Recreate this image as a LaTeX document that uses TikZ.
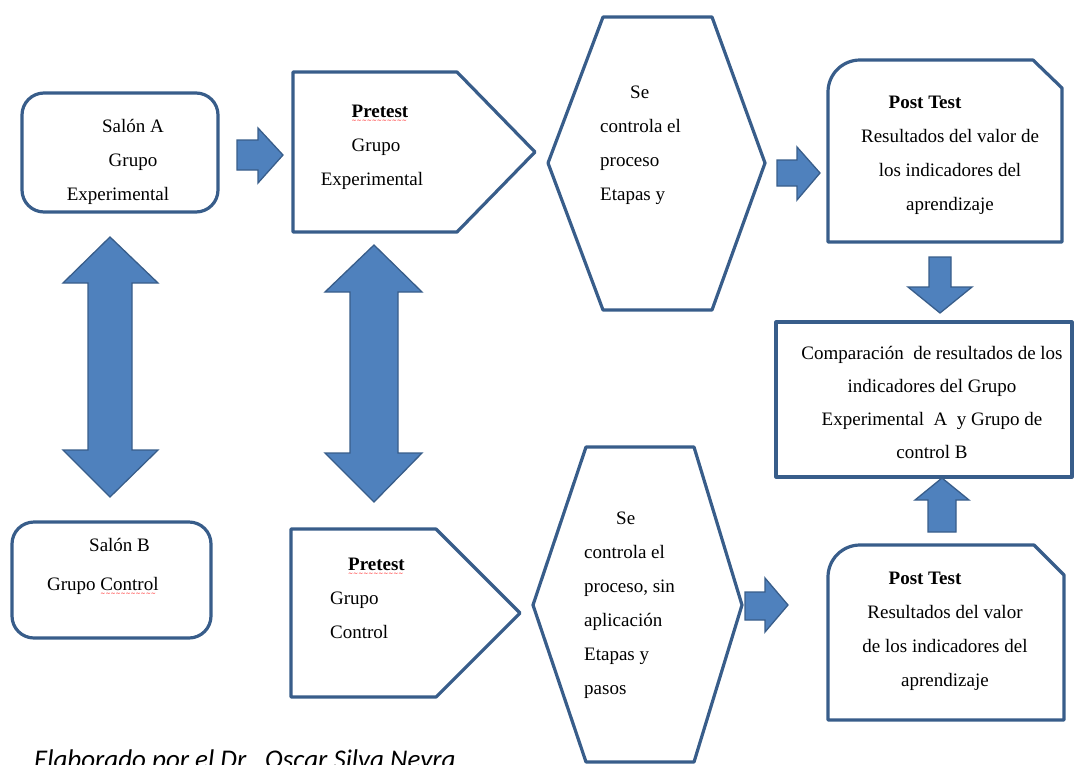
\documentclass[tikz,border=0pt]{standalone}
\usepackage{fontspec}
\setmainfont{Liberation Serif}
\newfontfamily\footfont{Carlito}
\newfontfamily\wavefont{DejaVu Sans}

\definecolor{lineblue}{HTML}{385D8A}
\definecolor{arrowblue}{HTML}{4F81BD}

% red wavy underline of the spell checker
\newcommand\spellmark[1]{\setbox0\hbox{#1}\rlap{\raisebox{-5pt}{\textcolor{red}{\wavefont\fontsize{6}{6}\selectfont\leaders\hbox{\char"223C}\hskip\wd0}}}#1}

\begin{document}
\begin{tikzpicture}[x=1pt, y=-1pt,
                    every node/.style={inner sep=0pt,
                      text=black,
                      font=\fontsize{19}{34}\selectfont},
                    outline/.style={draw=lineblue,
                      line width=3.2pt,
                      fill=white,
                      line join=round},
                    blockarrow/.style={draw=lineblue,
                      line width=1.3pt,
                      fill=arrowblue}]
\useasboundingbox (0,0) rectangle (1076,764);

% outlines
\draw[outline, rounded corners=22] (22,93) rectangle (218,212);
\draw[outline, rounded corners=22] (12,522) rectangle (211,638);
\draw[outline] (293,72) -- (457,72) -- (535,152) -- (457,232) -- (293,232) -- cycle;
\draw[outline] (291,529) -- (436,529) -- (520,613) -- (436,697) -- (291,697) -- cycle;
\draw[outline] (603,17) -- (712,17) -- (765,163) -- (712,310) -- (603,310) -- (548,163) -- cycle;
\draw[outline] (586,447) -- (694,447) -- (742,605) -- (694,762) -- (586,762) -- (533,605) -- cycle;
\draw[outline] (828,242) -- (828,92) arc[start angle=180, end angle=270, radius=32]
  -- (1033,60) -- (1062,88) -- (1062,242) -- cycle;
\draw[outline] (828,720) -- (828,577) arc[start angle=180, end angle=270, radius=32]
  -- (1034,545) -- (1064,575) -- (1064,720) -- cycle;
\draw[outline] (776,322) rectangle (1072,477);

% block arrows
\draw[blockarrow] (237,140) -- (258,140) -- (258,128) -- (283,155) -- (258,183) -- (258,170) -- (237,170) -- cycle;
\draw[blockarrow] (777,160) -- (797,160) -- (797,147) -- (820,173) -- (797,200) -- (797,186) -- (777,186) -- cycle;
\draw[blockarrow] (745,592) -- (765,592) -- (765,578) -- (788,605) -- (765,632) -- (765,620) -- (745,620) -- cycle;
\draw[blockarrow] (929,257) -- (951,257) -- (951,287) -- (972,287) -- (940,313) -- (908,287) -- (929,287) -- cycle;
\draw[blockarrow] (928,532) -- (956,532) -- (956,500) -- (969,500) -- (942,478) -- (915,500) -- (928,500) -- cycle;
\draw[blockarrow] (110,237) -- (158,283) -- (132,283) -- (132,450) -- (158,450) -- (110,497)
  -- (63,450) -- (88,450) -- (88,283) -- (63,283) -- cycle;
\draw[blockarrow] (374,245) -- (422,292) -- (398,292) -- (398,453) -- (422,453) -- (374,502)
  -- (325,453) -- (350,453) -- (350,292) -- (325,292) -- cycle;

% texts
\node (salonA) [align=center] at (133,162) {Salón A\\Grupo\\Experimental\hspace*{30pt}};
\node (salonB) [align=left, anchor=west] at (47,567) {\hspace*{42pt}Salón B\\[5pt]Grupo \spellmark{Control}};
\node (pretestA) [align=center] at (376,147) {\spellmark{\textbf{Pretest}}\hspace*{-8pt}\\Grupo\\Experimental\hspace*{8pt}};
\node (pretestB) [align=left, anchor=west] at (330,598) {\hspace*{18pt}\spellmark{\textbf{Pretest}}\\Grupo\\Control};
\node (controlA) [align=left, anchor=west] at (600,145) {\hspace*{30pt}Se\\controla el\\proceso\\Etapas y};
\node (controlB) [align=left, anchor=west] at (584,605) {\hspace*{32pt}Se\\controla el\\proceso, sin\\aplicación\\Etapas y\\pasos};
\node (posttestA) [align=center] at (950,155) {\textbf{Post Test}\hspace*{50pt}\\Resultados del valor de\\los indicadores del\\aprendizaje};
\node (posttestB) [align=center] at (945,631) {\textbf{Post Test}\hspace*{40pt}\\Resultados del valor\\de los indicadores del\\aprendizaje};
\node (comparacion) [align=center, font=\fontsize{19}{33}\selectfont] at (932,402)
  {Comparación~ de resultados de los\\indicadores del Grupo\\Experimental~ A~ y Grupo de\\control B};
\node (autor) [anchor=base west, font=\footfont\itshape\fontsize{27}{30}\selectfont] at (34,768)
  {Elaborado por el Dr.~ Oscar Silva Neyra};
\end{tikzpicture}
\end{document}
